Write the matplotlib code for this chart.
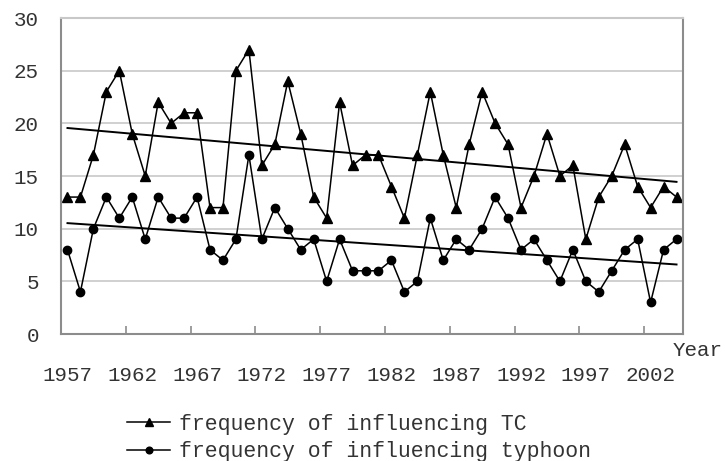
import numpy as np
import matplotlib
matplotlib.use("Agg")
import matplotlib.pyplot as plt
from matplotlib.ticker import FixedLocator

years = list(range(1957, 2005))
tc_freq = [13, 13, 17, 23, 25, 19, 15, 22, 20, 21, 21, 12, 12, 25, 27,
           16, 18, 24, 19, 13, 11, 22, 16, 17, 17, 14, 11, 17, 23, 17, 12, 18,
           23, 20, 18, 12, 15, 19, 15, 16, 9, 13, 15, 18, 14, 12, 14, 13]
typhoon_freq = [8, 4, 10, 13, 11, 13, 9, 13, 11, 11, 13, 8, 7, 9, 17,
                9, 12, 10, 8, 9, 5, 9, 6, 6, 6, 7, 4, 5, 11, 7, 9, 8,
                10, 13, 11, 8, 9, 7, 5, 8, 5, 4, 6, 8, 9, 3, 8, 9]
label_years = list(range(1957, 2003, 5))
y_ticks = [0, 5, 10, 15, 20, 25, 30]

FONT = "Liberation Mono"
GREY = "#8c8c8c"
TXT = "#333333"


def trend(x, y):
    # least squares line, as the spreadsheet trendline
    k, b = np.polyfit(x, y, 1)
    return [k * v + b for v in x]


fig = plt.figure(figsize=(7.25, 4.61), dpi=100)
ax = fig.add_axes([61 / 725, 1 - 334 / 461, 622 / 725, 316 / 461])

ax.plot(years, tc_freq, color="black", lw=1.1, marker="^", markersize=7,
        label="frequency of influencing TC")
ax.plot(years, typhoon_freq, color="black", lw=1.1, marker="o", markersize=6,
        label="frequency of influencing typhoon")
ax.plot(years, trend(years, tc_freq), color="black", lw=1.4)
ax.plot(years, trend(years, typhoon_freq), color="black", lw=1.4)

ax.set_xlim(years[0] - 0.5, years[-1] + 0.5)
ax.set_ylim(0, 30)
ax.set_yticks(y_ticks)
ax.yaxis.grid(True, color="#c8c8c8", lw=1.2)
ax.set_axisbelow(True)

ax.set_xticks(label_years)
ax.set_xticklabels([str(v) for v in label_years])
ax.xaxis.set_minor_locator(FixedLocator([v - 0.5 for v in label_years[1:]]))
ax.tick_params(axis="x", which="major", length=0, pad=23)
ax.tick_params(axis="x", which="minor", direction="in", length=6, width=1.2, color=GREY)
ax.tick_params(axis="y", length=0, pad=16)
for lab in ax.get_xticklabels() + ax.get_yticklabels():
    lab.set_fontfamily(FONT)
    lab.set_fontsize(15)
    lab.set_color(TXT)

for side in ["left", "bottom", "right", "top"]:
    ax.spines[side].set_color(GREY)
    ax.spines[side].set_linewidth(1.5)
ax.spines["top"].set_color("#c8c8c8")

fig.text(673 / 725, 1 - 350 / 461, "Year", fontfamily=FONT, fontsize=15,
         color=TXT, ha="left", va="center")

leg = fig.legend(loc="upper left", bbox_to_anchor=(127 / 725, 1 - 414 / 461),
                 frameon=False, handlelength=2.0, handletextpad=0.4,
                 labelspacing=0.3, borderpad=0, borderaxespad=0,
                 markerscale=0.8, prop={"family": FONT, "size": 15.5})
for t in leg.get_texts():
    t.set_color(TXT)

fig.savefig("out.png", dpi=100)
